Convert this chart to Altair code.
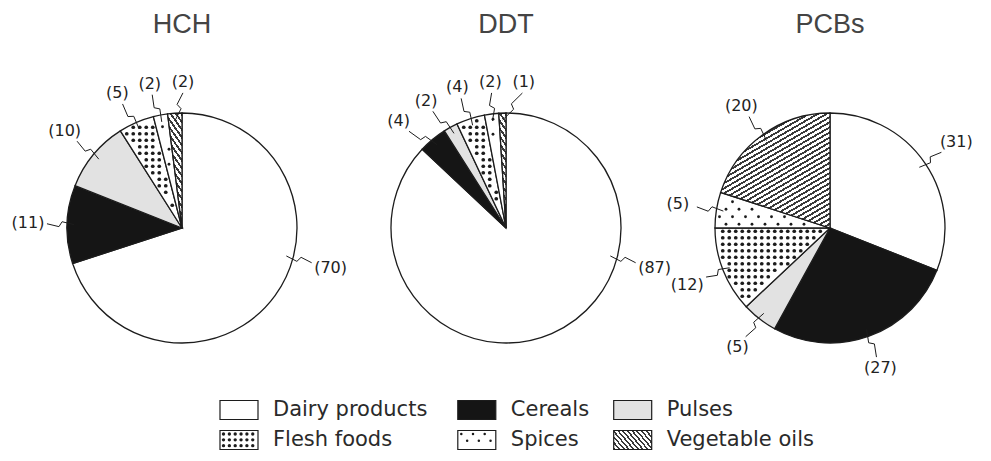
import math
import altair as alt
import pandas as pd

# ---------------- data ----------------
compounds = ["HCH", "DDT", "PCBs"]
categories = ["Dairy products", "Cereals", "Pulses", "Flesh foods", "Spices", "Vegetable oils"]
hch_values = [70, 11, 10, 5, 2, 2]
ddt_values = [87, 4, 2, 4, 2, 1]
pcb_values = [31, 27, 5, 12, 5, 20]
series = [hch_values, ddt_values, pcb_values]
legend_rows = [["Dairy products", "Cereals", "Pulses"],
               ["Flesh foods", "Spices", "Vegetable oils"]]

# ---------------- layout / style ----------------
W, H = 975, 445
R = 115
PIE_X0, PIE_DX, PIE_Y = 174, 324, 220
TITLE_Y = 17
INK = "#1c1c1c"
fills = {"Dairy products": "white", "Cereals": "#151515", "Pulses": "#e2e2e2",
         "Flesh foods": "white", "Spices": "white", "Vegetable oils": "white"}
hatch_angle = {"HCH": 55, "DDT": 55, "PCBs": -30}
FONT = "DejaVu Sans"
LABEL_ARC_LIMIT = 210  # label anchors of very large slices stay within this angle

xs = alt.Scale(domain=[0, W], nice=False, zero=False)
ys = alt.Scale(domain=[0, H], nice=False, zero=False, reverse=True)
ths = alt.Scale(domain=[0, 100], range=[0, 2 * math.pi])
fs = alt.Scale(domain=categories, range=[fills[c] for c in categories])


def stripe_gradient(bx, by, w, h, angle_deg, period, frac=0.42, dark="#3a3a3a"):
    d = (math.cos(math.radians(angle_deg)), math.sin(math.radians(angle_deg)))
    n = (-d[1], d[0])
    corners = [(bx, by), (bx + w, by), (bx, by + h), (bx + w, by + h)]
    fv = [n[0] * x + n[1] * y for x, y in corners]
    fmin, fmax = min(fv), max(fv)
    L = fmax - fmin
    a = n[0] * w / L
    b = n[1] * h / L
    c = (n[0] * bx + n[1] * by - fmin) / L
    s = a * a + b * b
    x1, y1 = -c * a / s, -c * b / s
    x2, y2 = x1 + a / s, y1 + b / s
    P = period / L
    stops = []
    t = 0.0
    while t < 1:
        e = min(t + P * frac, 1.0)
        stops += [(t, dark), (e, dark)]
        if e < 1:
            stops += [(e, "white"), (min(t + P, 1.0), "white")]
        t += P
    return alt.LinearGradient(
        gradient="linear", x1=x1, y1=y1, x2=x2, y2=y2,
        stops=[alt.GradientStop(offset=round(o, 6), color=col) for o, col in stops])


def arc_bbox(a0, a1):
    pts = [(0.0, 0.0)]
    for a in [a0, a1] + [k * 90 for k in range(5) if a0 < k * 90 < a1]:
        r = math.radians(a)
        pts.append((R * math.sin(r), -R * math.cos(r)))
    xv = [p[0] for p in pts]
    yv = [p[1] for p in pts]
    return min(xv), min(yv), max(xv) - min(xv), max(yv) - min(yv)


def sector_dots(cx, cy, a0, a1, sx, sy, stagger, margin, size):
    out = []
    ny = int(R / sy) + 2
    nx = int(R / sx) + 2
    for j in range(-ny, ny + 1):
        y = j * sy + sy / 2
        off = sx / 2 if (stagger and j % 2) else 0
        for i in range(-nx, nx + 1):
            x = i * sx + off + sx / 2
            r = math.hypot(x, y)
            if r > R - margin or r < margin:
                continue
            phi = math.degrees(math.atan2(x, -y)) % 360
            if not (a0 <= phi <= a1):
                continue
            if r * math.sin(math.radians(min(phi - a0, 90))) < margin:
                continue
            if r * math.sin(math.radians(min(a1 - phi, 90))) < margin:
                continue
            out.append(dict(x=cx + x, y=cy + y, sz=size))
    return out


def rect_dots(x0, y0, w, h, sx, sy, stagger, margin, size):
    out = []
    j = 0
    y = y0 + margin + 1
    while y <= y0 + h - margin:
        off = sx / 2 if (stagger and j % 2) else 0
        x = x0 + margin + 1 + off
        while x <= x0 + w - margin:
            out.append(dict(x=x, y=y, sz=size))
            x += sx
        y += sy
        j += 1
    return out


dot_style = {"Flesh foods": (6.5, 6.5, False, 2.6, 14),
             "Spices": (13, 7.5, True, 3.0, 8)}

# ---------------- slices ----------------
rows = []
for ci, (comp, vals) in enumerate(zip(compounds, series)):
    cx = PIE_X0 + ci * PIE_DX
    total = float(sum(vals))
    acc = 0.0
    for cat, v in zip(categories, vals):
        rows.append(dict(compound=comp, category=cat, value=v,
                         t0=acc / total * 100, t1=(acc + v) / total * 100,
                         cx=cx, cy=PIE_Y))
        acc += v
slices = pd.DataFrame(rows)

# ---------------- labels + leaders ----------------
G = 13.0
lab_rows, lead_rows, dot_rows = [], [], []
for comp in compounds:
    grp = slices[slices.compound == comp].reset_index(drop=True)
    mids = []
    for _, rw in grp.iterrows():
        a0, a1 = rw.t0 * 3.6, rw.t1 * 3.6
        if a1 - a0 > 180:
            a1 = min(a1, LABEL_ARC_LIMIT)
        mids.append((a0 + a1) / 2)
    ang = mids[:]
    n = len(ang)
    for _ in range(400):
        for i in range(n):
            j = (i + 1) % n
            gap = (ang[j] - ang[i]) % 360
            if gap < G:
                p = (G - gap) / 2
                ang[i] -= p
                ang[j] += p
    for k, row in grp.iterrows():
        cx, cy = row.cx, row.cy
        th = math.radians(ang[k])
        sn, cs = math.sin(th), math.cos(th)
        r_lab = R * (1.27 + 0.07 * abs(sn))
        lx, ly = cx + r_lab * sn, cy - r_lab * cs
        lab_rows.append(dict(x=lx, y=ly, text=f"({row.value})"))
        mid = math.radians(mids[k])
        r_in = R - 7
        p0 = (cx + r_in * math.sin(mid), cy - r_in * math.cos(mid))
        t = min(17 / max(abs(sn), 1e-6), 9 / max(abs(cs), 1e-6))
        r_out = max(r_lab - t - 2, R + 6)
        p3 = (cx + r_out * sn, cy - r_out * cs)
        dx, dy = p3[0] - p0[0], p3[1] - p0[1]
        L = math.hypot(dx, dy) or 1
        u = (dx / L, dy / L)
        nv = (-u[1], u[0])
        m = ((p0[0] + p3[0]) / 2, (p0[1] + p3[1]) / 2)
        p1 = (m[0] - 1.5 * u[0] + 2.5 * nv[0], m[1] - 1.5 * u[1] + 2.5 * nv[1])
        p2 = (m[0] + 1.5 * u[0] - 2.5 * nv[0], m[1] + 1.5 * u[1] - 2.5 * nv[1])
        key = f"{comp}-{row.category}"
        for o, pt in enumerate([p0, p1, p2, p3]):
            lead_rows.append(dict(key=key, k=o, x=pt[0], y=pt[1]))
        if row.category in dot_style:
            sx, sy, st, mg, sz = dot_style[row.category]
            dot_rows += sector_dots(cx, cy, row.t0 * 3.6, row.t1 * 3.6, sx, sy, st, mg, sz)

labels = pd.DataFrame(lab_rows)
leaders = pd.DataFrame(lead_rows)
titles = pd.DataFrame([dict(text=c, x=PIE_X0 + i * PIE_DX, y=TITLE_Y) for i, c in enumerate(compounds)])

# ---------------- legend ----------------
LEG_X0, LEG_Y0, LEG_DY = 212, 402, 30
BOX_W, BOX_H, GAP, COL_GAP, CHAR_W = 38, 19, 15, 21, 11.7
col_x = []
xcur = LEG_X0
for k in range(3):
    col_x.append(xcur)
    xcur += BOX_W + GAP + max(len(r[k]) for r in legend_rows) * CHAR_W + COL_GAP
leg_rows = []
for ri, rr in enumerate(legend_rows):
    yc = LEG_Y0 + ri * LEG_DY
    for k, cat in enumerate(rr):
        leg_rows.append(dict(category=cat, x=col_x[k], x2=col_x[k] + BOX_W,
                             y=yc - BOX_H / 2, y2=yc + BOX_H / 2,
                             tx=col_x[k] + BOX_W + GAP, ty=yc))
        if cat in dot_style:
            sx, sy, st, mg, sz = dot_style[cat]
            dot_rows += rect_dots(col_x[k], yc - BOX_H / 2, BOX_W, BOX_H, sx * 0.9, sy * 0.9, st, 2.5, sz * 0.8)
legend = pd.DataFrame(leg_rows)
dots = pd.DataFrame(dot_rows)

# ---------------- layers ----------------
layers = []
base = alt.Chart(slices[slices.category != "Vegetable oils"]).mark_arc(
    radius=R, stroke=INK, strokeWidth=1.3).encode(
    x=alt.X("cx:Q", scale=xs, axis=None),
    y=alt.Y("cy:Q", scale=ys, axis=None),
    theta=alt.Theta("t0:Q", scale=ths),
    theta2="t1:Q",
    fill=alt.Fill("category:N", scale=fs, legend=None))
layers.append(base)

for comp in compounds:
    sub = slices[(slices.compound == comp) & (slices.category == "Vegetable oils")]
    r0 = sub.iloc[0]
    bx, by, bw, bh = arc_bbox(r0.t0 * 3.6, r0.t1 * 3.6)
    grad = stripe_gradient(bx, by, bw, bh, hatch_angle[comp], 4.4)
    layers.append(alt.Chart(sub).mark_arc(radius=R, stroke=INK, strokeWidth=1.3, fill=grad).encode(
        x=alt.X("cx:Q", scale=xs, axis=None),
        y=alt.Y("cy:Q", scale=ys, axis=None),
        theta=alt.Theta("t0:Q", scale=ths),
        theta2="t1:Q"))

# legend boxes
layers.append(alt.Chart(legend[legend.category != "Vegetable oils"]).mark_rect(
    stroke=INK, strokeWidth=1.2).encode(
    x=alt.X("x:Q", scale=xs, axis=None), x2="x2:Q",
    y=alt.Y("y:Q", scale=ys, axis=None), y2="y2:Q",
    fill=alt.Fill("category:N", scale=fs, legend=None)))
lg = legend[legend.category == "Vegetable oils"]
layers.append(alt.Chart(lg).mark_rect(
    stroke=INK, strokeWidth=1.2,
    fill=stripe_gradient(0, 0, BOX_W, BOX_H, 50, 3.6)).encode(
    x=alt.X("x:Q", scale=xs, axis=None), x2="x2:Q",
    y=alt.Y("y:Q", scale=ys, axis=None), y2="y2:Q"))

# dot textures
layers.append(alt.Chart(dots).mark_circle(color=INK, opacity=1).encode(
    x=alt.X("x:Q", scale=xs, axis=None),
    y=alt.Y("y:Q", scale=ys, axis=None),
    size=alt.Size("sz:Q", scale=None)))

# leaders
layers.append(alt.Chart(leaders).mark_line(color=INK, strokeWidth=1).encode(
    x=alt.X("x:Q", scale=xs, axis=None),
    y=alt.Y("y:Q", scale=ys, axis=None),
    detail="key:N", order="k:Q"))

# value labels
layers.append(alt.Chart(labels).mark_text(
    font=FONT, fontSize=16, color="#222", align="center", baseline="middle").encode(
    x=alt.X("x:Q", scale=xs, axis=None),
    y=alt.Y("y:Q", scale=ys, axis=None),
    text="text:N"))

# titles
layers.append(alt.Chart(titles).mark_text(
    font="Liberation Sans", fontSize=27, color="#444", align="center", baseline="middle").encode(
    x=alt.X("x:Q", scale=xs, axis=None),
    y=alt.Y("y:Q", scale=ys, axis=None),
    text="text:N"))

# legend labels
layers.append(alt.Chart(legend).mark_text(
    font=FONT, fontSize=21, color="#2a2a2a", align="left", baseline="middle").encode(
    x=alt.X("tx:Q", scale=xs, axis=None),
    y=alt.Y("ty:Q", scale=ys, axis=None),
    text="category:N"))

chart = alt.layer(*layers).properties(
    width=W, height=H, padding=0,
    autosize=alt.AutoSizeParams(type="none"),
).configure_view(stroke=None)

chart.save("out.html", embed_options={"renderer": "svg", "actions": False})
